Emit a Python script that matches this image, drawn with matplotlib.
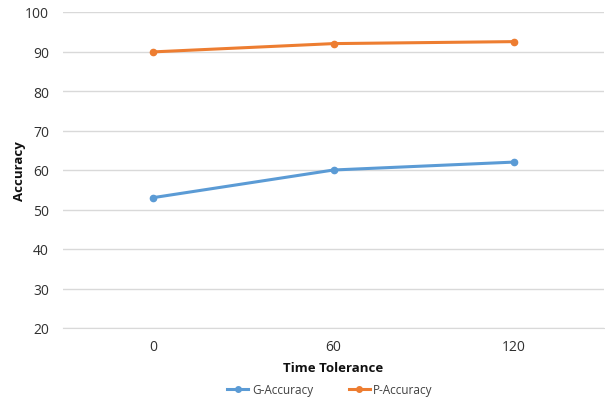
import matplotlib.pyplot as plt
from matplotlib.lines import Line2D

tolerances = ['0', '60', '120']
g_accuracy = [53, 60, 62]
p_accuracy = [89.9, 92, 92.5]

plt.rcParams['font.family'] = ['Open Sans', 'DejaVu Sans']

fig = plt.figure(figsize=(6.05, 4.02), dpi=100)
ax = fig.add_axes([63 / 605, 1 - 329 / 402, 541 / 605, 316 / 402])

x = range(len(tolerances))
ax.plot(x, g_accuracy, color='#5B9BD5', lw=2.2, marker='o', ms=4.5, label='G-Accuracy')
ax.plot(x, p_accuracy, color='#ED7D31', lw=2.2, marker='o', ms=4.5, label='P-Accuracy')

ax.set_xlim(-0.5, 2.5)
ax.set_ylim(20, 100)
ax.set_yticks(range(20, 101, 10))
ax.set_xticks(list(x))
ax.set_xticklabels(tolerances)
ax.grid(axis='y', color='#D9D9D9', lw=1)
ax.set_axisbelow(True)
for side in ['top', 'right', 'left']:
    ax.spines[side].set_visible(False)
ax.spines['bottom'].set_color('#D9D9D9')
ax.tick_params(length=0, labelsize=10, colors='#303030', pad=8)
ax.tick_params(axis='y', pad=10)

ax.set_xlabel('Time Tolerance', fontsize=9.5, fontweight='bold', labelpad=5, color='#101010')
fig.text(20 / 605, 1 - 171 / 402, 'Accuracy', fontsize=9.5, fontweight='bold', rotation=90,
         ha='center', va='center', color='#101010')

handles = [Line2D([], [], color='#5B9BD5', lw=2.2, marker='o', ms=4),
           Line2D([], [], color='#ED7D31', lw=2.2, marker='o', ms=4)]
fig.legend(handles, ['G-Accuracy', 'P-Accuracy'], loc='center', bbox_to_anchor=(330 / 605, 1 - 391 / 402),
           ncol=2, frameon=False, fontsize=8.5, handlelength=1.8, handletextpad=0.3, columnspacing=3,
           labelcolor='#404040')

fig.savefig('out.png', dpi=100)
